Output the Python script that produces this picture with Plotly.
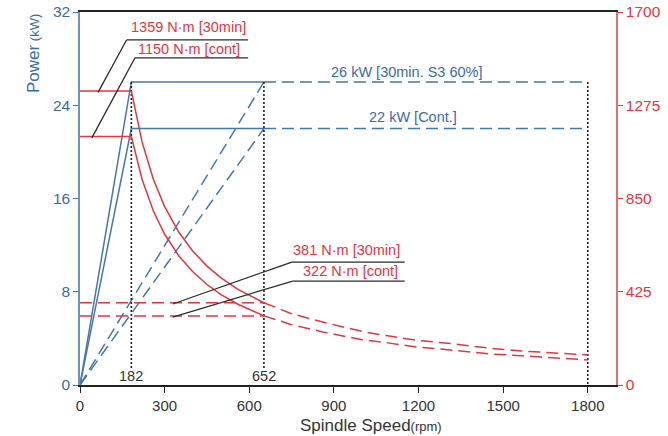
import plotly.graph_objects as go

# ---- data ----
base_speed = 182
max_speed_const = 652
max_speed = 1800
power_30min = 26   # kW
power_cont = 22    # kW

torque_30min_const = 1340   # plotted level of "1359 N·m [30min]"
torque_cont_const = 1133    # plotted level of "1150 N·m [cont]"
torque_30min_high = 375     # plotted level of "381 N·m [30min]"
torque_cont_high = 315      # plotted level of "322 N·m [cont]"

speed_solid = [182, 220, 260, 300, 350, 400, 450, 500, 560, 652]
torque_30min_solid = [1340, 1108, 938, 813, 697, 610, 542, 488, 436, 375]
torque_cont_solid = [1133, 938, 793, 687, 589, 516, 458, 412, 368, 315]

speed_dash = [652, 750, 857, 1000, 1091, 1200, 1328, 1450, 1566, 1700, 1800]
torque_30min_dash = [375, 325, 288, 244, 224, 203, 187, 168, 155, 143, 137]
torque_cont_dash = [315, 275, 243, 206, 192, 172, 158, 142, 133, 121, 114]

x_ticks = [0, 300, 600, 900, 1200, 1500, 1800]
power_ticks = [0, 8, 16, 24, 32]
torque_ticks = [0, 425, 850, 1275, 1700]

BLUE = "#4676b0"
BLUE_T = "#3c6aa6"
RED = "#e8343c"
RED_T = "#f0303a"
DARK = "#333333"
FONT = "Liberation Sans, Arial, Helvetica, sans-serif"

fig = go.Figure()

def line(x, y, color, dash="solid", width=1.5, axis="y"):
    fig.add_trace(go.Scatter(x=x, y=y, mode="lines", yaxis=axis,
                             line=dict(color=color, width=width, dash=dash),
                             hoverinfo="skip", showlegend=False))

DASH = "12px,6px"
# red torque lines (right axis)
line([0, base_speed], [torque_30min_const]*2, RED, axis="y2")
line([0, base_speed], [torque_cont_const]*2, RED, axis="y2")
line([0, max_speed_const], [torque_30min_high]*2, RED, DASH, axis="y2")
line([0, max_speed_const], [torque_cont_high]*2, RED, DASH, axis="y2")
line(speed_solid, torque_30min_solid, RED, axis="y2")
line(speed_solid, torque_cont_solid, RED, axis="y2")
line(speed_dash, torque_30min_dash, RED, DASH, axis="y2")
line(speed_dash, torque_cont_dash, RED, DASH, axis="y2")

# blue power lines (left axis)
line([0, base_speed, max_speed_const], [0, power_30min, power_30min], BLUE)
line([0, base_speed, max_speed_const], [0, power_cont, power_cont], BLUE)
line([max_speed_const, max_speed], [power_30min]*2, BLUE, DASH)
line([max_speed_const, max_speed], [power_cont]*2, BLUE, DASH)
line([0, max_speed_const], [0, power_30min], BLUE, DASH)
line([0, max_speed_const], [0, power_cont], BLUE, DASH)

# dotted verticals
DOT = "2px,2px"
line([base_speed]*2, [power_30min, 1.3], "#222222", DOT, 1.6)
line([max_speed_const]*2, [power_30min, 1.3], "#222222", DOT, 1.6)
line([max_speed]*2, [power_30min, 0], "#222222", DOT, 1.6)

shapes = []
def seg(x0, y0, x1, y1):
    shapes.append(dict(type="line", xref="x", yref="y", x0=x0, y0=y0, x1=x1, y1=y1,
                       line=dict(color="#2a2a2a", width=1.3)))

# leader lines
seg(64, 25.1, 165, 29.6); seg(165, 29.6, 596, 29.6)
seg(42, 21.2, 195, 28.07); seg(195, 28.07, 596, 28.07)
seg(329, 6.95, 751, 10.55); seg(751, 10.55, 1151, 10.55)
seg(329, 5.83, 754, 8.92); seg(754, 8.92, 1151, 8.92)

ann = []
def text(x, y, t, color, size=14.5, xref="x", yref="y", angle=0):
    ann.append(dict(x=x, y=y, xref=xref, yref=yref, text=t, showarrow=False,
                    font=dict(color=color, size=size, family=FONT),
                    xanchor="center", yanchor="middle", textangle=angle))

text(384, 30.7, "1359 N·m [30min]", RED_T, 14.5)
text(388, 28.85, "1150 N·m [cont]", RED_T, 14.5)
text(946, 11.55, "381 N·m [30min]", RED_T, 14.5)
text(960, 9.75, "322 N·m [cont]", RED_T, 14.5)
text(1160, 26.87, "26 kW [30min. S3 60%]", BLUE_T)
text(1180, 23.01, "22 kW [Cont.]", BLUE_T)
text(base_speed, 0.75, "182", DARK, 14.5)
text(max_speed_const, 0.75, "652", DARK, 14.5)

# axis titles as annotations (window-pixel placement via paper coords)
def px(xp): return (xp - 80) / 536
def py(yp): return (385 - yp) / 373
text(px(34), py(54), "Power<span style='font-size:13px'> (kW)</span>", BLUE_T, 17,
     "paper", "paper", -90)
text(px(371), py(425), "Spindle Speed<span style='font-size:13px'>(rpm)</span>", DARK, 17,
     "paper", "paper")

fig.update_layout(
    width=668, height=436,
    margin=dict(l=80, r=52, t=12, b=51, autoexpand=False),
    paper_bgcolor="white", plot_bgcolor="white",
    font=dict(family=FONT),
    shapes=shapes, annotations=ann,
    xaxis=dict(range=[0, 1900], tickvals=x_ticks, showgrid=False, zeroline=False,
               showline=True, linecolor="#222222", linewidth=1.5, mirror=True,
               ticks="outside", ticklen=6, tickcolor="#222222", automargin=False,
               ticklabeloverflow="allow",
               tickfont=dict(size=15, color=DARK, family=FONT)),
    yaxis=dict(range=[0, 32], tickvals=power_ticks, showgrid=False, zeroline=False,
               showline=True, linecolor="#6a94c6", linewidth=1.5, automargin=False,
               ticks="outside", ticklen=5, tickcolor=BLUE, ticklabeloverflow="allow",
               tickfont=dict(size=15.5, color=BLUE_T, family=FONT)),
    yaxis2=dict(range=[0, 1700], tickvals=torque_ticks, overlaying="y", side="right",
                showgrid=False, zeroline=False, showline=True, linecolor="#ec6a6a",
                linewidth=1.5, ticks="outside", ticklen=5, tickcolor=RED, automargin=False,
                ticklabeloverflow="allow",
                tickfont=dict(size=15.5, color=RED_T, family=FONT)),
)

# remove the default 8px page margin so the figure sits at the window's top-left
fig.write_html("out.html", config={"displayModeBar": False},
               post_script="document.body.style.margin='0px';document.body.style.overflow='hidden';")
